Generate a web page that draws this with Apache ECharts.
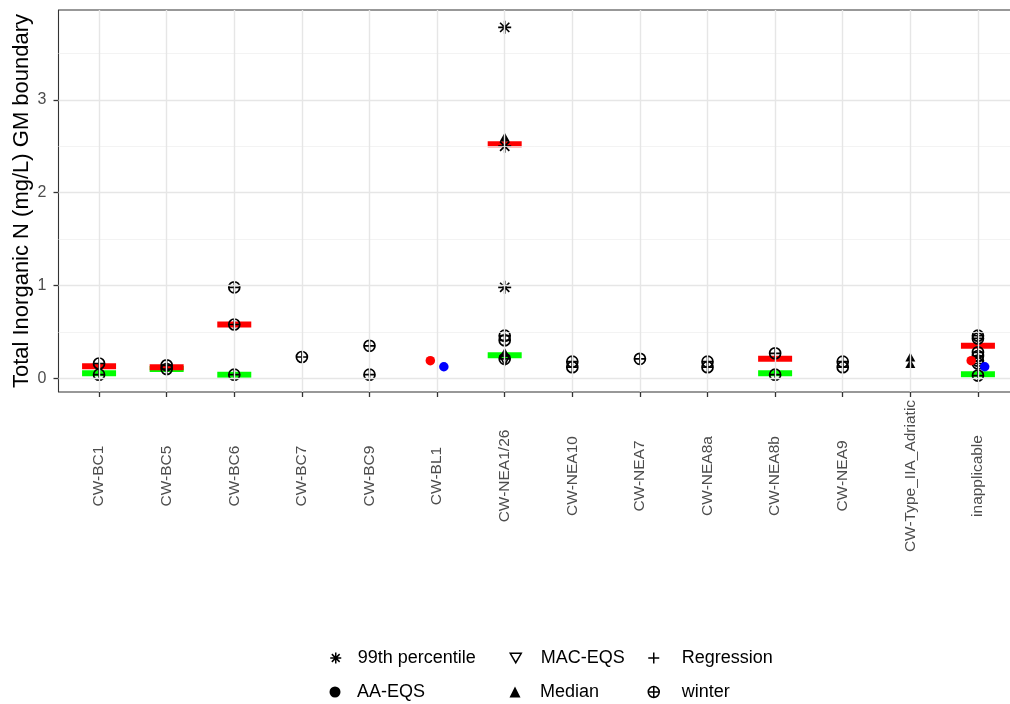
<!DOCTYPE html>
<html><head><meta charset="utf-8">
<script src="https://cdn.jsdelivr.net/npm/echarts@6/dist/echarts.min.js"></script>
<style>html,body{margin:0;padding:0;background:#fff}#c{width:1010px;height:704px}</style>
</head><body><div id="c"></div>
<script>
const categories = ['CW-BC1','CW-BC5','CW-BC6','CW-BC7','CW-BC9','CW-BL1','CW-NEA1/26','CW-NEA10','CW-NEA7','CW-NEA8a','CW-NEA8b','CW-NEA9','CW-Type_IIA_Adriatic','inapplicable'];
const yTicks = [0, 1, 2, 3];
const yMinor = [0.5, 1.5, 2.5, 3.5];
const redBar = [['CW-BC1',0.13],['CW-BC5',0.12],['CW-BC6',0.58],['CW-NEA1/26',2.52],['CW-NEA8b',0.21],['inapplicable',0.35]];
const greenBar = [['CW-BC1',0.055],['CW-BC5',0.10],['CW-BC6',0.04],['CW-NEA1/26',0.25],['CW-NEA8b',0.055],['inapplicable',0.045]];
const winter = [['CW-BC1',0.16],['CW-BC1',0.04],['CW-BC5',0.14],['CW-BC5',0.10],['CW-BC6',0.98],['CW-BC6',0.58],['CW-BC6',0.04],['CW-BC7',0.23],['CW-BC9',0.35],['CW-BC9',0.04],['CW-NEA1/26',0.46],['CW-NEA1/26',0.41],['CW-NEA1/26',0.21],['CW-NEA10',0.18],['CW-NEA10',0.12],['CW-NEA7',0.21],['CW-NEA8a',0.18],['CW-NEA8a',0.12],['CW-NEA8b',0.27],['CW-NEA8b',0.04],['CW-NEA9',0.18],['CW-NEA9',0.12],['inapplicable',0.46],['inapplicable',0.43],['inapplicable',0.28],['inapplicable',0.24],['inapplicable',0.19],['inapplicable',0.16],['inapplicable',0.03]];
const median = [['CW-NEA1/26',2.60],['CW-NEA1/26',0.28],['CW-Type_IIA_Adriatic',0.23],['CW-Type_IIA_Adriatic',0.16]];
const macEqs = [['CW-NEA1/26',0.19]];
const p99 = [['CW-NEA1/26',3.78],['CW-NEA1/26',2.50],['CW-NEA1/26',0.98]];
const regression = [];
const aaRed = [['CW-BL1',0.19],['inapplicable',0.19]];
const aaBlue = [['CW-BL1',0.125],['inapplicable',0.125]];

const DODGE = 0.1;
const pos = (d, off) => [categories.indexOf(d[0]) + 1 + (off || 0), d[1]];
const SYM = {
  asterisk: 'path://M-1,0L1,0M0,-1L0,1M-0.71,-0.71L0.71,0.71M-0.71,0.71L0.71,-0.71',
  downTri: 'path://M-1,-0.8L1,-0.8L0,0.9Z',
  plus: 'path://M-1,0L1,0M0,-1L0,1',
  circlePlus: 'path://M1,0C1,0.5523 0.5523,1 0,1C-0.5523,1 -1,0.5523 -1,0C-1,-0.5523 -0.5523,-1 0,-1C0.5523,-1 1,-0.5523 1,0ZM-1,0L1,0M0,-1L0,1'
};
const hollow = {color:'rgba(0,0,0,0)', borderColor:'#000', borderWidth:1.5, opacity:1};
const solid = {color:'#000', opacity:1};
const FONT = 'Liberation Sans, Arial, sans-serif';

const xt = categories.map((c, i) => i + 1);
const ICON = 11;
function legendItem(name, icon, style, cx, cy, pad) {
  return {left: cx - 5 - ICON / 2, top: cy - 13, orient:'horizontal', itemWidth:ICON, itemHeight:ICON,
    selectedMode:false,
    textStyle:{fontSize:18, color:'#000', fontFamily:FONT, padding:[0,0,0,pad]},
    data:[{name:name, icon:icon, itemStyle:style}]};
}
const chart = echarts.init(document.getElementById('c'));
chart.setOption({
  animation:false,
  textStyle:{fontFamily:FONT},
  grid:{left:58.5, top:10, width:960, height:382, outerBoundsMode:'none', containLabel:false,
    show:true, borderColor:'#333', borderWidth:1.1, backgroundColor:'#fff'},
  xAxis:{type:'value', min:0.4, max:14.6,
    axisLine:{show:false, onZero:false},
    axisTick:{show:true, customValues:xt, length:5, lineStyle:{color:'#333', width:1.3}},
    axisLabel:{customValues:xt, formatter:v => categories[Math.round(v)-1] || '', rotate:90, align:'center', verticalAlign:'middle', margin:84, fontSize:15.5, color:'#4D4D4D'},
    splitLine:{show:false}},
  yAxis:{type:'value', min:-0.147, max:3.967,
    name:'Total Inorganic N (mg/L) GM boundary', nameLocation:'middle', nameGap:26, nameRotate:90, nameMoveOverlap:false,
    nameTextStyle:{fontSize:22, color:'#000'},
    axisLine:{show:false, onZero:false},
    axisTick:{show:true, customValues:yTicks, length:5, lineStyle:{color:'#333', width:1.3}},
    axisLabel:{customValues:yTicks, margin:12, fontSize:16, color:'#4D4D4D'},
    splitLine:{show:false}},
  legend:[
    legendItem('99th percentile', SYM.asterisk, hollow, 335, 657, 11.5),
    legendItem('AA-EQS', 'circle', solid, 335, 691, 11.5),
    legendItem('MAC-EQS', SYM.downTri, hollow, 515, 657, 14.5),
    legendItem('Median', 'triangle', solid, 515, 691, 14.5),
    legendItem('Regression', SYM.plus, hollow, 653, 657, 17.5),
    legendItem('winter', SYM.circlePlus, hollow, 653, 691, 17.5)
  ],
  series:[
    {type:'line', name:'grid-lines', data:[], silent:true, z:1,
      markLine:{silent:true, symbol:['none','none'], label:{show:false}, animation:false,
        data:[].concat(
          yMinor.map(v => ({yAxis:v, lineStyle:{color:'#F0F0F0', width:0.8, type:'solid'}})),
          yTicks.map(v => ({yAxis:v, lineStyle:{color:'#E6E6E6', width:1.4, type:'solid'}})),
          xt.map(v => ({xAxis:v, lineStyle:{color:'#E6E6E6', width:1.4, type:'solid'}}))
        )}},
    {type:'scatter', name:'green', data:greenBar.map(d => pos(d)), symbol:'rect', symbolSize:[34,6], itemStyle:{color:'#00FF00', opacity:1}, z:2},
    {type:'scatter', name:'red', data:redBar.map(d => pos(d)), symbol:'rect', symbolSize:[34,6], itemStyle:{color:'#FF0000', opacity:1}, z:2},
    {type:'scatter', name:'winter', data:winter.map(d => pos(d)), symbol:SYM.circlePlus, symbolSize:11, itemStyle:{color:'rgba(0,0,0,0)', borderColor:'#000', borderWidth:1.7, opacity:1}, z:3},
    {type:'scatter', name:'Median', data:median.map(d => pos(d)), symbol:'triangle', symbolSize:[10,9], itemStyle:solid, z:3},
    {type:'scatter', name:'MAC-EQS', data:macEqs.map(d => pos(d)), symbol:SYM.downTri, symbolSize:9, itemStyle:hollow, z:3},
    {type:'scatter', name:'99th percentile', data:p99.map(d => pos(d)), symbol:SYM.asterisk, symbolSize:13, itemStyle:{color:'rgba(0,0,0,0)', borderColor:'#000', borderWidth:1.7, opacity:1}, z:3},
    {type:'scatter', name:'Regression', data:regression.map(d => pos(d)), symbol:SYM.plus, symbolSize:11, itemStyle:hollow, z:3},
    {type:'scatter', name:'AA-EQS', data:[], symbol:'circle', symbolSize:9, itemStyle:solid, z:3},
    {type:'scatter', name:'AA-EQS red', data:aaRed.map(d => pos(d, -DODGE)), symbol:'circle', symbolSize:9.5, itemStyle:{color:'#FF0000', opacity:1}, z:4},
    {type:'scatter', name:'AA-EQS blue', data:aaBlue.map(d => pos(d, DODGE)), symbol:'circle', symbolSize:9.5, itemStyle:{color:'#0000FF', opacity:1}, z:4}
  ]
});
</script></body></html>
